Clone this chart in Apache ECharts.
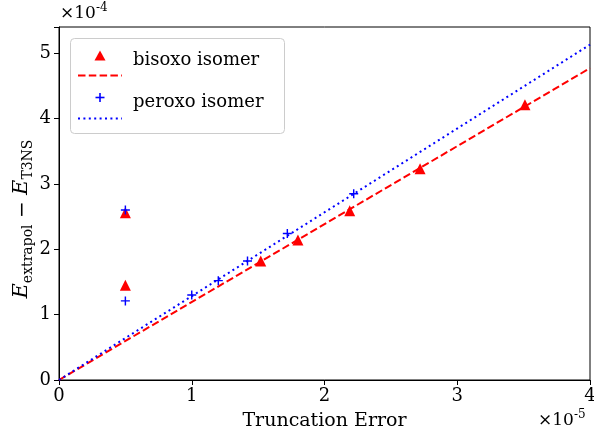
<!DOCTYPE html>
<html>
<head>
<meta charset="utf-8">
<script src="https://cdn.jsdelivr.net/npm/echarts@6/dist/echarts.min.js"></script>
<style>
html,body{margin:0;padding:0;background:#fff;overflow:hidden;}
#main{width:594px;height:435px;}
</style>
</head>
<body>
<div id="main"></div>
<script>
// x in units of 1e-5, y in units of 1e-4
const bisoxoX = [0.5, 0.5, 1.52, 1.80, 2.19, 2.72, 3.51];
const bisoxoY = [2.56, 1.45, 1.82, 2.14, 2.59, 3.23, 4.21];
const peroxoX = [0.5, 0.5, 1.0, 1.2, 1.42, 1.72, 2.22];
const peroxoY = [2.60, 1.21, 1.30, 1.52, 1.82, 2.24, 2.85];
const fitX = [0, 4];
const bisoxoFitY = [0, 4.77];
const peroxoFitY = [0, 5.13];
const xTicks = [0, 1, 2, 3, 4];
const yTicks = [0, 1, 2, 3, 4, 5];

const FONT = 'DejaVu Serif';
const zip = (a, b) => a.map((v, i) => [v, b[i]]);

const chart = echarts.init(document.getElementById('main'), null, {renderer: 'canvas'});
const plusPath = 'path://M4.2,0h1.6v10h-1.6z M0,4.2h10v1.6h-10z';
const DASH = [7.5, 3.3];
const DOT = [2, 3.4];

chart.setOption({
  animation: false,
  backgroundColor: '#fff',
  grid: {left: 59, right: 4, top: 27, bottom: 55, show: true, borderColor: '#000', borderWidth: 1,
    outerBoundsMode: 'none', containLabel: false},
  xAxis: {
    type: 'value', min: 0, max: 4, interval: 1,
    axisLine: {show: true, lineStyle: {color: '#000', width: 1}},
    axisTick: {show: true, inside: false, length: 5, lineStyle: {color: '#000'}},
    splitLine: {show: false},
    axisLabel: {color: '#000', fontFamily: FONT, fontSize: 18, margin: 7,
      formatter: v => xTicks.includes(v) ? String(v) : ''},
    name: 'Truncation Error', nameLocation: 'middle', nameGap: 32,
    nameTextStyle: {color: '#000', fontFamily: FONT, fontSize: 19}
  },
  yAxis: {
    type: 'value', min: 0, max: 5.4, interval: 1,
    axisLine: {show: true, lineStyle: {color: '#000', width: 1}},
    axisTick: {show: true, inside: false, length: 5, lineStyle: {color: '#000'}},
    splitLine: {show: false},
    axisLabel: {color: '#000', fontFamily: FONT, fontSize: 18, margin: 8,
      formatter: v => yTicks.includes(v) ? String(v) : ''}
  },
  series: [
    {type: 'line', data: zip(fitX, bisoxoFitY), symbol: 'none', z: 2,
      lineStyle: {color: '#ff0000', width: 2, type: DASH}},
    {type: 'line', data: zip(fitX, peroxoFitY), symbol: 'none', z: 2,
      lineStyle: {color: '#0000ff', width: 2, type: DOT}},
    {type: 'scatter', data: zip(bisoxoX, bisoxoY), symbol: 'triangle', symbolSize: [11, 11], z: 3,
      itemStyle: {color: '#ff0000', opacity: 1}},
    {type: 'scatter', data: zip(peroxoX, peroxoY), symbol: plusPath, symbolSize: 9, z: 4,
      itemStyle: {color: '#0000ff', opacity: 1}}
  ],
  graphic: [
    {type: 'text', x: 23, y: 219, rotation: Math.PI / 2, style: {
      text: '{i|E}{s|extrapol}{m| − }{i|E}{s|T3NS}', align: 'center', verticalAlign: 'middle',
      rich: {
        i: {fontFamily: FONT, fontStyle: 'italic', fontSize: 21, fill: '#000', lineHeight: 24, verticalAlign: 'top'},
        s: {fontFamily: FONT, fontSize: 14, fill: '#000', lineHeight: 24, verticalAlign: 'bottom', padding: [9, 0, 0, 0]},
        m: {fontFamily: FONT, fontSize: 20, fill: '#000', lineHeight: 24}
      }}},
    {type: 'text', left: 60, top: 2, style: {
      text: '{a|×10}{b|-4}', rich: {
        a: {fontFamily: FONT, fontSize: 17, fill: '#000', lineHeight: 20, verticalAlign: 'bottom'},
        b: {fontFamily: FONT, fontSize: 12, fill: '#000', lineHeight: 20, verticalAlign: 'top'}}}},
    {type: 'text', left: 538, top: 409, style: {
      text: '{a|×10}{b|-5}', rich: {
        a: {fontFamily: FONT, fontSize: 17, fill: '#000', lineHeight: 20, verticalAlign: 'bottom'},
        b: {fontFamily: FONT, fontSize: 12, fill: '#000', lineHeight: 20, verticalAlign: 'top'}}}},
    // legend
    {type: 'rect', shape: {x: 70.5, y: 38.5, width: 214, height: 95, r: 4},
      style: {fill: 'rgba(255,255,255,0.8)', stroke: '#cccccc', lineWidth: 1}, z: 10},
    {type: 'polygon', shape: {points: [[100, 50.5], [94.5, 60.5], [105.5, 60.5]]},
      style: {fill: '#ff0000'}, z: 11},
    {type: 'line', shape: {x1: 78, y1: 75.5, x2: 122, y2: 75.5},
      style: {stroke: '#ff0000', lineWidth: 2, lineDash: DASH}, z: 11},
    {type: 'text', left: 133, top: 51, style: {text: 'bisoxo isomer', fontFamily: FONT, fontSize: 18, fill: '#000'}, z: 11},
    {type: 'rect', shape: {x: 99.2, y: 93, width: 1.6, height: 9}, style: {fill: '#0000ff'}, z: 11},
    {type: 'rect', shape: {x: 95.5, y: 96.7, width: 9, height: 1.6}, style: {fill: '#0000ff'}, z: 11},
    {type: 'line', shape: {x1: 78, y1: 118.5, x2: 122, y2: 118.5},
      style: {stroke: '#0000ff', lineWidth: 2, lineDash: DOT}, z: 11},
    {type: 'text', left: 133, top: 93, style: {text: 'peroxo isomer', fontFamily: FONT, fontSize: 18, fill: '#000'}, z: 11}
  ]
});
</script>
</body>
</html>
